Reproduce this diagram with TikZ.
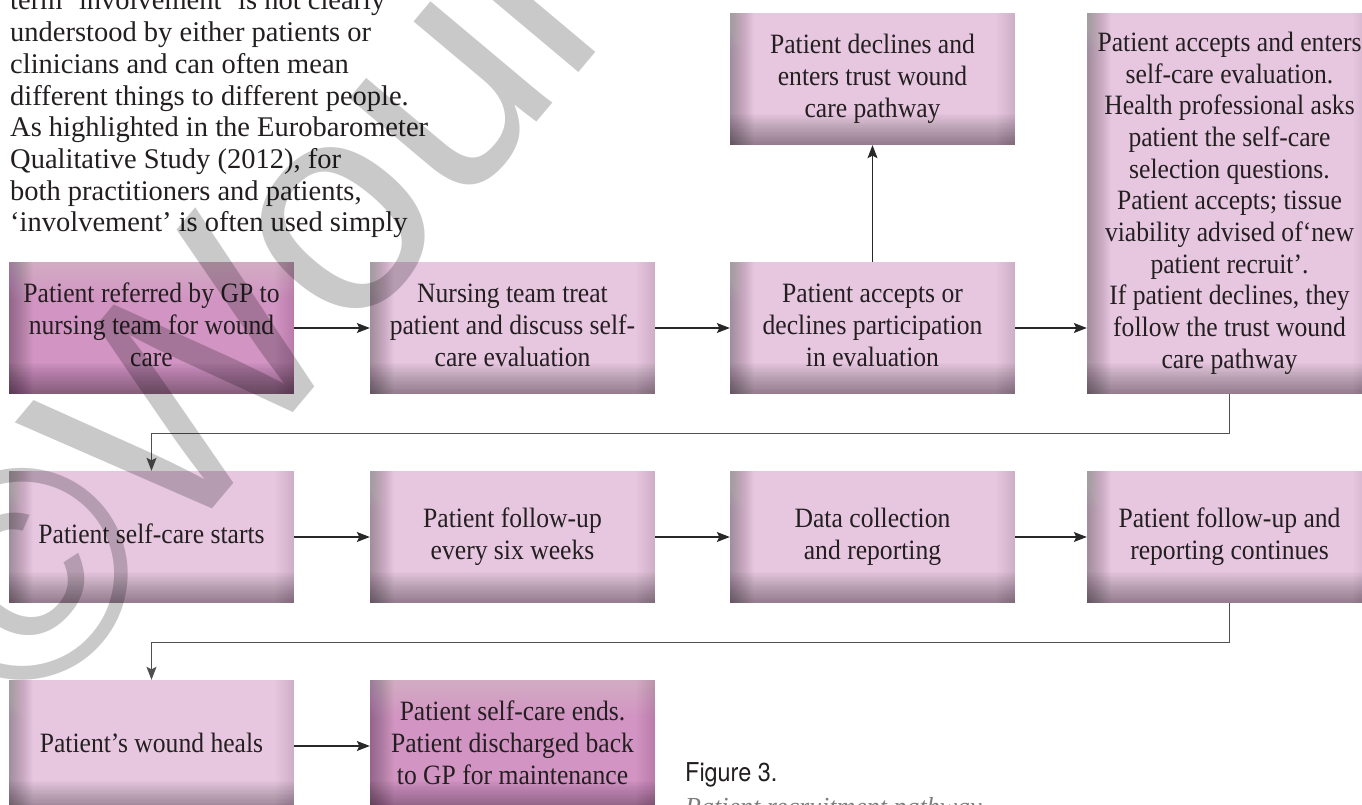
\documentclass[tikz,border=0pt]{standalone}
\usepackage{fontspec}
\setmainfont{Liberation Serif}
\newfontfamily\boxfont[FakeStretch=0.915]{Liberation Serif}
\newfontfamily\wmfont{Liberation Sans}
\newfontfamily\capfont[FakeStretch=0.9]{TeX Gyre Heros}
\usetikzlibrary{arrows.meta}
\definecolor{txt}{RGB}{35,31,32}
\definecolor{lc}{RGB}{40,40,40}
\definecolor{loopc}{RGB}{80,80,80}
\definecolor{lpink}{RGB}{231,199,224}
\definecolor{dpink}{RGB}{210,148,195}
\definecolor{capgray}{RGB}{125,125,125}
\newcommand{\bxt}[1]{{\boxfont\fontsize{28}{31.7}\selectfont\begin{tabular}{@{}c@{}}#1\end{tabular}}}
\tikzset{
  pbox/.style={rectangle, inner sep=0pt, minimum width=285pt, minimum height=132pt,
    fill=#1, text=txt,
    path picture={
      \foreach \i in {1,...,24} {
        \fill[white, opacity=0.011] (path picture bounding box.north west) rectangle ([yshift=-\i*1.5pt]path picture bounding box.north east);
        \fill[black, opacity=0.01] (path picture bounding box.south west) rectangle ([xshift=\i*1pt]path picture bounding box.north west);
        \fill[black, opacity=0.004] ([xshift=-\i*0.8pt]path picture bounding box.north east) rectangle (path picture bounding box.south east);
        \fill[black, opacity=0.015] (path picture bounding box.south west) rectangle ([yshift=\i*1.3pt]path picture bounding box.south east);
      }
    }},
  arr/.style={draw=lc, line width=1.1pt, -{Stealth[length=13pt,width=10pt,inset=2.5pt]}},
  loopl/.style={draw=loopc, line width=1.3pt, -{Stealth[length=13pt,width=10pt,inset=2.5pt]}},
}
\begin{document}
\begin{tikzpicture}[x=1pt,y=-1pt]
\useasboundingbox (0,0) rectangle (1362,805);
\clip (0,0) rectangle (1362,805);
\fill[white] (0,0) rectangle (1362,805);

% body text
\node[anchor=base west, inner sep=0pt, text=txt, font=\fontsize{28.5}{31.7}\selectfont] (para) at (10,10)
 {\begin{tabular}[t]{@{}l@{}}term ‘involvement’ is not clearly\\
 understood by either patients or\\
 clinicians and can often mean\\
 different things to different people.\\
 As highlighted in the Eurobarometer\\
 Qualitative Study (2012), for\\
 both practitioners and patients,\\
 ‘involvement’ is often used simply\end{tabular}};

% row 1
\node[pbox=dpink] (b1) at (151.5,328) {\bxt{Patient referred by GP to\\nursing team for wound\\care}};
\node[pbox=lpink] (b2) at (512.5,328) {\bxt{Nursing team treat\\patient and discuss self-\\care evaluation}};
\node[pbox=lpink] (b3) at (872.5,328) {\bxt{Patient accepts or\\declines participation\\in evaluation}};
\node[pbox=lpink] (top) at (872.5,79) {\bxt{Patient declines and\\enters trust wound\\care pathway}};
\node[pbox=lpink, minimum height=381pt] (tall) at (1229.5,203.5) {\bxt{Patient accepts and enters\\self-care evaluation.\\Health professional asks\\patient the self-care\\selection questions.\\Patient accepts; tissue\\viability advised of‘new\\patient recruit’.\\If patient declines, they\\follow the trust wound\\care pathway}};

% row 2
\node[pbox=lpink] (r2a) at (151.5,537) {\bxt{Patient self-care starts}};
\node[pbox=lpink] (r2b) at (512.5,537) {\bxt{Patient follow-up\\every six weeks}};
\node[pbox=lpink] (r2c) at (872.5,537) {\bxt{Data collection\\and reporting}};
\node[pbox=lpink] (r2d) at (1229.5,537) {\bxt{Patient follow-up and\\reporting continues}};

% row 3
\node[pbox=lpink] (r3a) at (151.5,746) {\bxt{Patient’s wound heals}};
\node[pbox=dpink] (r3b) at (512.5,746) {\bxt{Patient self-care ends.\\Patient discharged back\\to GP for maintenance}};

% connectors
\draw[arr] (b1.east) -- (b2.west);
\draw[arr] (b2.east) -- (b3.west);
\draw[arr] (b3.east) -- (tall.west |- b3.east);
\draw[arr] (b3.north) -- (top.south);
\draw[loopl] (tall.south) -- ++(0,39) -| (r2a.north);
\draw[arr] (r2a.east) -- (r2b.west);
\draw[arr] (r2b.east) -- (r2c.west);
\draw[arr] (r2c.east) -- (r2d.west);
\draw[loopl] (r2d.south) -- ++(0,39) -| (r3a.north);
\draw[arr] (r3a.east) -- (r3b.west);

% caption
\node[anchor=base west, inner sep=0pt, text=txt, font=\capfont\fontsize{26}{30}\selectfont] (cap) at (685,781) {Figure 3.};
\node[anchor=base west, inner sep=0pt, text=capgray, font=\fontsize{26}{30}\selectfont\itshape] (capt) at (685,815) {Patient recruitment pathway};

% watermark
\node[anchor=base west, inner sep=0pt, rotate=50, text=black, opacity=0.21, font=\wmfont\fontsize{300}{300}\selectfont] (wm) at (30,726) {©Woun};
\end{tikzpicture}
\end{document}
